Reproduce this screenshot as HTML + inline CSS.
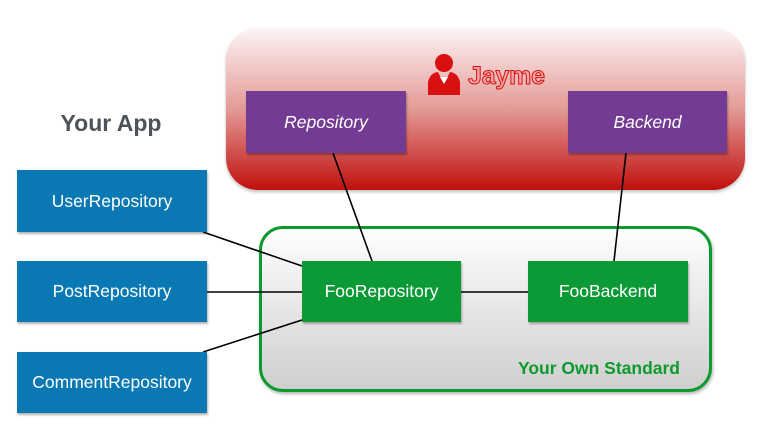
<!DOCTYPE html>
<html><head><meta charset="utf-8"><style>
body{margin:0;width:765px;height:440px;background:#fff;position:relative;overflow:hidden;font-family:"Liberation Sans",sans-serif}
.a{position:absolute;box-sizing:border-box}
.box{display:flex;align-items:center;justify-content:center;color:#fff;font-size:17.5px;box-shadow:1px 2px 2px rgba(0,0,0,.3)}
.blue{background:#0a78b3}
.green{background:#0c9a37}
.purple{background:#733b93;font-style:italic}
</style></head><body>
<div class="a" style="left:226px;top:28px;width:519px;height:162px;border-radius:32px;background:linear-gradient(#fdf5f5,#e39a96 50%,#c0100e);box-shadow:0 2px 3px rgba(0,0,0,.25)"></div>
<div class="a" style="left:259px;top:226px;width:453px;height:166px;border-radius:24px;border:3.5px solid #0c9a2c;background:linear-gradient(#fefefe,#cfcfcf);box-shadow:1px 2px 3px rgba(0,0,0,.3)"></div>
<svg class="a" style="left:0;top:0" width="765" height="440">
<g stroke="#000" stroke-width="1.6">
<line x1="203" y1="232" x2="302" y2="266"/>
<line x1="207" y1="292" x2="302" y2="292"/>
<line x1="203" y1="352" x2="302" y2="320"/>
<line x1="333" y1="153" x2="372" y2="261"/>
<line x1="626" y1="153" x2="614" y2="261"/>
<line x1="461" y1="292" x2="528" y2="292"/>
</g>
<g fill="#d81010">
<circle cx="444" cy="63" r="9"/>
<path d="M428 95 L428 82 Q430 73 438 72 L444 84 L450 72 Q458 73 460 82 L460 95 Z"/>
</g>
<path d="M440 77 L444 84 L448 77" fill="#fff"/>
<text x="468" y="84" font-family="Liberation Sans,sans-serif" font-size="25" font-weight="bold" fill="#f3a6a6" stroke="#d81010" stroke-width="1" textLength="77">Jayme</text>
</svg>
<div class="a" style="left:40px;top:110px;width:142px;text-align:center;font-size:23px;font-weight:bold;color:#4d5358">Your App</div>
<div class="a box purple" style="left:246px;top:91px;width:160px;height:62px">Repository</div>
<div class="a box purple" style="left:568px;top:91px;width:159px;height:62px">Backend</div>
<div class="a box blue" style="left:17px;top:170px;width:190px;height:62px">UserRepository</div>
<div class="a box blue" style="left:17px;top:261px;width:190px;height:61px">PostRepository</div>
<div class="a box blue" style="left:17px;top:352px;width:190px;height:61px">CommentRepository</div>
<div class="a box green" style="left:302px;top:261px;width:159px;height:61px">FooRepository</div>
<div class="a box green" style="left:528px;top:261px;width:160px;height:61px">FooBackend</div>
<div class="a" style="left:480px;top:358px;width:200px;text-align:right;font-size:17.5px;font-weight:bold;color:#0c9a2c">Your Own Standard</div>
</body></html>
